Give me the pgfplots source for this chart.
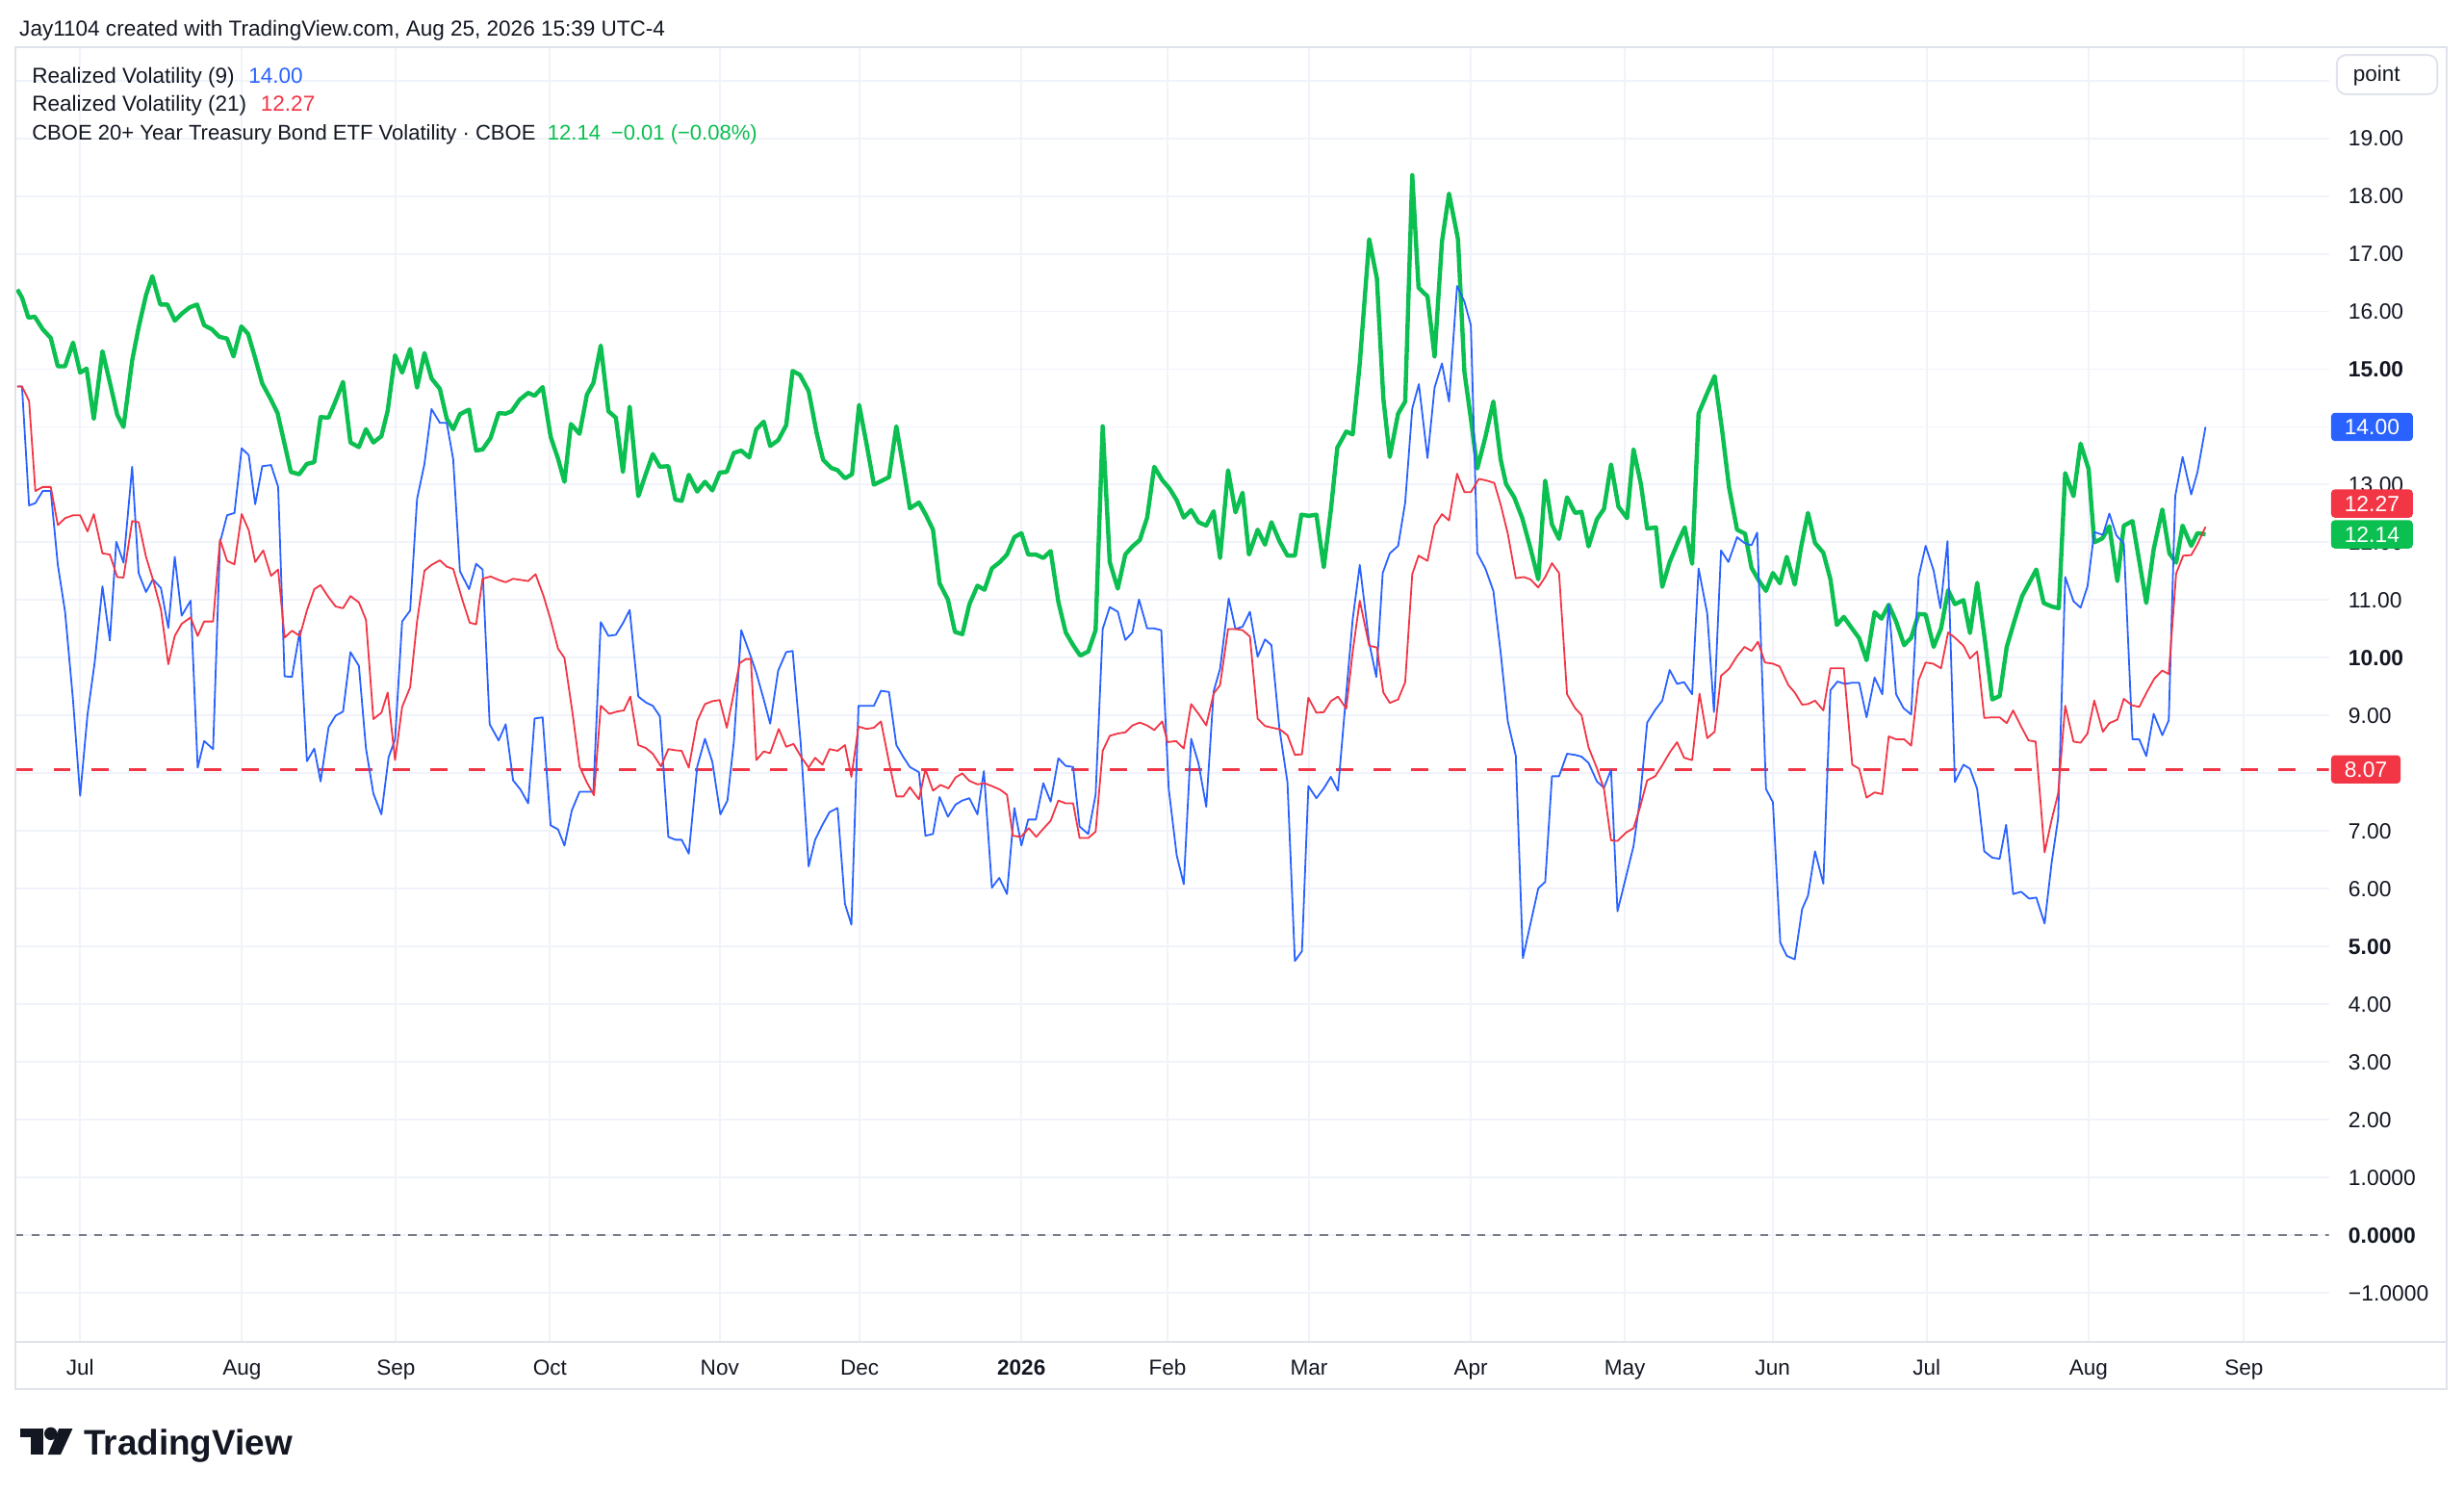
\documentclass[border=0pt]{standalone}
\usepackage{fontspec}
\setmainfont{Liberation Sans}
\usepackage{pgfplots}
\pgfplotsset{compat=1.18}
\usepackage{pgfplotstable}
\definecolor{tvblue}{HTML}{2962FF}
\definecolor{tvred}{HTML}{F23645}
\definecolor{tvgreen}{HTML}{0BBF50}
\definecolor{tvtext}{HTML}{131722}
\definecolor{tvgrid}{HTML}{F0F3FA}
\definecolor{tvborder}{HTML}{E0E3EB}
\definecolor{tvgray}{HTML}{787B86}
\newcommand{\tvfont}{\fontsize{6.9}{8}\selectfont}

% x = horizontal position on the time scale (bar position), y = value
\pgfplotstableread{
x y
11.0 16.38
14.0 16.24
18.1 15.89
22.1 15.91
27.2 15.69
32.3 15.54
36.8 15.05
41.4 15.05
46.5 15.46
51.0 14.94
55.1 15.01
59.7 14.14
65.2 15.31
69.9 14.77
74.6 14.21
78.6 14.00
84.1 15.15
88.2 15.72
92.9 16.28
96.9 16.61
102.0 16.12
106.5 16.12
111.2 15.84
115.6 15.96
120.7 16.07
125.4 16.12
129.9 15.76
134.9 15.69
139.6 15.56
144.5 15.53
148.6 15.22
153.6 15.74
157.9 15.61
162.4 15.19
166.9 14.75
172.1 14.49
176.6 14.24
180.7 13.75
185.1 13.22
190.4 13.18
195.3 13.36
200.0 13.39
204.0 14.17
209.1 14.16
213.6 14.45
218.3 14.78
223.0 13.73
228.4 13.65
232.9 13.96
237.6 13.73
242.7 13.84
246.7 14.28
251.4 15.24
255.9 14.94
261.0 15.35
265.4 14.68
270.1 15.28
274.6 14.84
279.9 14.66
284.3 14.14
288.4 13.96
292.7 14.22
298.5 14.30
303.0 13.59
307.1 13.61
312.2 13.81
317.3 14.24
321.8 14.23
325.5 14.27
330.6 14.47
336.1 14.59
340.2 14.54
345.3 14.69
350.4 13.83
355.1 13.45
359.2 13.05
363.3 14.05
368.8 13.88
373.5 14.56
377.6 14.76
382.3 15.41
387.2 14.27
391.9 14.16
396.4 13.22
400.7 14.35
406.2 12.80
410.9 13.18
415.4 13.53
419.9 13.31
425.3 13.32
429.8 12.74
433.8 12.72
438.3 13.17
443.7 12.88
448.6 13.05
453.3 12.90
458.0 13.21
462.5 13.22
467.0 13.55
471.7 13.59
476.8 13.47
481.3 13.96
486.0 14.09
490.1 13.67
495.2 13.77
500.3 14.03
504.4 14.97
509.1 14.90
514.6 14.62
519.7 13.89
523.8 13.43
528.9 13.29
533.0 13.25
537.7 13.11
542.2 13.18
546.7 14.38
551.4 13.71
556.1 13.00
560.6 13.06
565.7 13.13
570.4 14.01
574.9 13.29
579.0 12.59
584.8 12.69
589.3 12.47
593.7 12.22
597.9 11.29
603.2 11.01
607.7 10.45
612.4 10.41
616.9 10.93
622.0 11.25
626.5 11.18
631.2 11.55
636.3 11.66
640.8 11.79
645.5 12.09
650.0 12.16
654.3 11.79
659.2 11.79
663.9 11.73
668.6 11.85
673.5 10.97
678.2 10.44
682.9 10.22
687.4 10.04
692.5 10.11
697.2 10.48
701.7 14.01
706.2 11.66
711.3 11.20
716.1 11.79
720.6 11.93
725.3 12.04
730.0 12.43
734.5 13.31
739.6 13.08
744.3 12.93
748.8 12.73
753.3 12.43
758.0 12.56
762.7 12.35
767.6 12.29
772.3 12.54
776.4 11.73
781.5 13.25
786.2 12.52
790.7 12.86
794.8 11.79
800.3 12.22
805.0 11.96
809.1 12.35
814.2 12.02
819.3 11.77
824.0 11.77
828.1 12.48
833.0 12.46
837.7 12.48
842.4 11.57
846.9 12.56
851.0 13.64
856.7 13.92
860.8 13.87
865.3 15.10
871.3 17.25
876.2 16.57
880.3 14.49
884.4 13.48
889.7 14.23
894.2 14.44
898.7 18.36
902.7 16.41
908.4 16.26
912.9 15.22
917.6 17.21
922.1 18.04
927.8 17.25
931.9 14.95
936.0 14.14
940.1 13.28
945.2 13.82
950.3 14.44
955.0 13.43
958.4 13.01
963.6 12.78
968.7 12.42
973.8 11.91
978.9 11.36
983.3 13.07
987.6 12.31
992.1 12.06
997.2 12.78
1002.3 12.51
1006.4 12.53
1010.9 11.93
1016.2 12.40
1020.7 12.58
1025.2 13.35
1029.9 12.62
1035.4 12.42
1039.5 13.61
1044.2 13.01
1048.2 12.24
1053.8 12.26
1057.8 11.23
1062.5 11.66
1067.6 11.99
1072.1 12.26
1076.8 11.63
1080.9 14.23
1086.0 14.56
1091.1 14.88
1095.8 13.96
1100.3 12.95
1105.4 12.22
1110.5 12.15
1114.6 11.56
1119.2 11.34
1123.8 11.16
1128.2 11.47
1132.7 11.29
1137.0 11.75
1142.1 11.27
1146.2 11.93
1150.5 12.51
1155.0 11.99
1160.3 11.82
1164.8 11.36
1168.9 10.57
1173.3 10.71
1178.0 10.53
1183.1 10.34
1187.8 9.96
1192.9 10.79
1197.3 10.68
1201.9 10.92
1206.6 10.63
1211.7 10.22
1216.2 10.35
1220.9 10.76
1225.4 10.75
1230.5 10.19
1235.2 10.51
1239.7 11.17
1244.0 10.93
1249.5 11.00
1253.6 10.43
1258.2 11.30
1263.1 10.31
1267.8 9.28
1272.5 9.34
1277.0 10.19
1282.1 10.66
1286.8 11.07
1291.3 11.30
1295.8 11.53
1300.5 10.95
1305.6 10.89
1310.1 10.86
1314.2 13.20
1319.5 12.80
1324.0 13.71
1329.1 13.27
1332.7 12.00
1337.8 12.07
1342.3 12.28
1347.4 11.33
1351.5 12.29
1357.0 12.37
1361.3 11.68
1365.8 10.95
1370.5 11.88
1376.0 12.57
1380.5 11.81
1384.8 11.65
1388.9 12.29
1394.4 11.94
1398.4 12.16
1403.5 12.14
}\greendata

\pgfplotstableread{
x y
11.0 14.70
14.0 14.70
18.5 14.45
22.5 12.89
27.2 12.96
32.3 12.96
36.8 12.30
41.4 12.42
46.5 12.47
51.0 12.47
55.7 12.19
59.7 12.49
65.2 11.81
69.9 11.79
74.6 11.40
78.6 11.39
84.1 12.37
88.2 12.35
92.9 11.75
97.3 11.36
102.4 10.84
107.1 9.89
111.2 10.38
115.6 10.59
121.3 10.70
125.8 10.38
129.9 10.63
135.6 10.63
140.0 12.05
144.5 11.68
149.2 11.62
153.8 12.49
158.3 12.21
162.4 11.66
167.5 11.86
172.5 11.42
177.0 11.53
181.1 10.35
185.8 10.47
190.8 10.38
195.3 10.82
200.0 11.19
204.0 11.26
209.1 11.05
213.6 10.89
218.3 10.86
223.0 11.07
228.4 10.96
232.9 10.66
237.6 8.94
242.7 9.05
246.7 9.40
251.4 8.23
255.9 9.15
261.0 9.49
265.4 10.63
270.1 11.51
274.6 11.61
279.9 11.69
284.3 11.58
288.4 11.54
294.4 10.99
298.9 10.61
303.0 10.58
307.1 11.37
312.2 11.41
317.3 11.35
321.8 11.31
326.5 11.37
331.6 11.35
336.1 11.33
340.8 11.45
345.9 11.07
350.4 10.66
355.1 10.16
359.2 10.00
364.3 9.05
368.8 8.12
373.5 7.84
378.0 7.62
382.3 9.17
387.8 9.03
392.5 9.07
397.0 9.09
401.1 9.33
406.2 8.49
410.9 8.44
415.4 8.34
420.6 8.12
425.3 8.42
429.8 8.40
433.8 8.39
438.3 8.10
443.7 8.91
448.6 9.20
453.3 9.25
458.0 9.27
462.5 8.79
467.0 9.40
470.7 9.91
474.7 9.98
477.8 9.98
481.3 8.23
486.0 8.38
490.1 8.35
495.6 8.77
500.3 8.46
505.0 8.51
509.9 8.28
514.6 8.10
518.7 8.27
523.4 8.15
527.9 8.42
533.0 8.39
537.7 8.49
541.8 7.94
546.3 8.81
551.4 8.77
556.1 8.79
560.6 8.90
565.7 8.20
570.4 7.60
574.9 7.60
579.0 7.76
584.8 7.55
588.9 8.07
593.7 7.70
598.5 7.80
603.6 7.74
608.1 7.93
612.4 8.00
616.9 7.87
622.0 7.81
626.5 7.83
631.2 7.78
636.3 7.72
640.8 7.63
644.5 6.92
649.6 6.90
654.7 7.05
659.4 6.90
663.9 7.04
668.6 7.18
673.5 7.53
678.2 7.48
682.9 7.48
687.0 6.88
692.5 6.88
697.2 6.99
701.7 8.39
706.2 8.65
711.3 8.69
716.1 8.71
720.6 8.83
725.3 8.88
730.0 8.83
734.5 8.75
739.6 8.90
743.0 8.54
748.4 8.56
753.3 8.43
758.0 9.20
762.7 9.03
767.6 8.83
772.3 9.38
776.4 9.53
781.5 10.50
786.2 10.50
790.7 10.48
795.4 10.37
800.3 8.95
805.0 8.82
809.7 8.79
814.6 8.76
819.3 8.66
824.0 8.32
828.5 8.33
832.6 9.31
837.7 9.05
842.4 9.06
846.9 9.25
851.4 9.33
856.7 9.12
860.8 10.11
865.3 10.99
871.3 10.21
876.2 10.18
880.3 9.40
884.4 9.22
889.7 9.28
894.2 9.58
898.7 11.45
902.7 11.77
908.4 11.68
912.9 12.29
917.6 12.49
922.1 12.38
927.2 13.19
931.9 12.87
936.0 12.87
941.1 13.10
946.2 13.07
950.9 13.03
955.0 12.65
959.5 12.15
964.6 11.38
969.7 11.40
973.8 11.36
978.9 11.22
983.3 11.40
987.6 11.64
992.1 11.47
997.2 9.37
1002.3 9.13
1006.4 9.01
1010.9 8.45
1016.2 8.09
1020.7 7.73
1025.2 6.84
1029.3 6.83
1035.0 6.98
1039.5 7.05
1043.6 7.41
1048.2 7.88
1053.3 7.95
1057.8 8.14
1062.5 8.36
1067.2 8.54
1071.7 8.27
1076.8 8.23
1081.5 9.38
1086.4 8.61
1091.1 8.72
1095.2 9.69
1100.3 9.81
1105.4 10.03
1110.1 10.19
1114.6 10.12
1118.7 10.28
1123.1 9.92
1128.2 9.90
1132.5 9.85
1138.0 9.53
1142.1 9.40
1146.8 9.19
1150.5 9.20
1155.0 9.26
1160.3 9.09
1164.8 9.82
1169.3 9.82
1173.3 9.82
1178.7 8.15
1183.1 8.08
1187.8 7.58
1192.9 7.67
1197.8 7.64
1201.9 8.64
1206.6 8.59
1211.7 8.59
1216.2 8.48
1220.9 9.61
1225.4 9.92
1230.1 9.90
1235.2 9.82
1239.7 10.44
1244.0 10.35
1249.5 10.21
1253.6 9.99
1258.2 10.11
1262.7 8.96
1267.8 8.97
1272.5 8.97
1277.0 8.87
1281.1 9.09
1286.2 8.81
1290.9 8.57
1295.4 8.55
1301.1 6.63
1305.6 7.20
1309.7 7.65
1314.2 9.17
1319.5 8.55
1324.0 8.53
1328.4 8.69
1332.7 9.26
1338.2 8.72
1342.3 8.87
1347.4 8.93
1351.5 9.29
1356.6 9.18
1361.3 9.15
1365.8 9.39
1370.9 9.64
1376.0 9.78
1380.1 9.72
1384.8 11.46
1389.3 11.77
1394.4 11.78
1398.4 11.97
1403.5 12.27
}\reddata

\pgfplotstableread{
x y
11.0 14.70
14.0 14.70
18.5 12.64
22.5 12.68
27.2 12.89
32.3 12.89
36.8 11.61
41.4 10.80
46.5 9.26
51.0 7.61
55.7 9.02
60.3 9.93
65.2 11.24
69.9 10.30
74.0 12.01
78.6 11.65
84.1 13.31
88.2 11.47
92.9 11.14
97.3 11.36
102.4 11.21
107.1 10.52
111.2 11.75
115.6 10.73
121.3 10.99
125.8 8.10
129.9 8.56
135.6 8.42
140.0 12.00
144.5 12.47
149.2 12.51
153.8 13.63
158.3 13.51
162.4 12.66
166.9 13.32
172.5 13.34
177.0 12.96
181.1 9.68
185.8 9.67
190.8 10.47
195.3 8.21
200.0 8.43
204.0 7.86
209.1 8.80
213.6 9.00
218.3 9.07
223.0 10.10
228.4 9.86
232.9 8.43
237.6 7.65
242.7 7.29
247.3 8.28
251.4 8.59
255.9 10.63
261.0 10.82
265.4 12.75
270.1 13.36
274.6 14.31
279.9 14.07
284.3 14.07
288.4 13.44
292.7 11.50
298.5 11.19
303.0 11.63
307.1 11.53
311.6 8.85
317.3 8.57
321.8 8.85
326.5 7.88
331.2 7.72
336.1 7.48
340.2 8.95
345.3 8.97
350.4 7.10
355.1 7.03
359.2 6.75
363.9 7.36
368.8 7.68
373.5 7.68
377.6 7.68
382.3 10.62
387.2 10.38
391.9 10.40
396.6 10.61
400.7 10.83
406.2 9.33
410.9 9.23
415.4 9.17
419.9 8.99
425.3 6.90
429.8 6.85
433.8 6.85
438.3 6.61
443.7 8.12
448.6 8.60
453.3 8.20
458.4 7.29
462.9 7.53
467.0 8.55
471.7 10.48
476.8 10.10
481.3 9.74
486.0 9.28
490.1 8.86
495.2 9.78
500.3 10.10
504.4 10.12
509.5 8.53
514.6 6.39
518.7 6.85
523.4 7.11
527.9 7.33
533.0 7.40
537.7 5.74
541.8 5.38
546.3 9.17
551.4 9.17
556.1 9.17
560.6 9.43
565.7 9.41
570.4 8.49
574.9 8.28
579.0 8.11
584.8 8.02
588.9 6.92
593.7 6.95
597.9 7.59
603.2 7.25
608.1 7.46
612.4 7.53
616.9 7.57
622.0 7.29
626.1 8.04
631.2 6.02
635.9 6.19
640.8 5.91
645.5 7.40
650.0 6.75
654.3 7.20
659.2 7.20
663.9 7.83
668.6 7.51
673.5 8.26
678.2 8.13
682.9 8.11
687.0 7.08
692.5 6.95
697.2 7.63
701.7 10.50
706.2 10.88
711.3 10.80
716.1 10.31
720.6 10.44
724.8 11.01
730.0 10.51
734.5 10.51
739.0 10.48
743.7 7.74
748.8 6.58
753.3 6.08
758.0 8.60
762.7 8.17
767.6 7.42
772.3 9.42
776.4 9.81
781.9 11.03
786.2 10.50
790.7 10.54
795.4 10.80
800.3 10.02
805.0 10.32
809.1 10.22
814.2 8.77
819.3 7.84
824.0 4.75
828.5 4.92
832.6 7.78
837.7 7.57
842.4 7.74
846.9 7.94
851.4 7.70
856.1 9.20
860.8 10.67
865.3 11.61
871.3 10.26
875.8 9.67
879.9 11.47
884.4 11.81
889.7 11.94
894.2 12.69
898.7 14.32
902.9 14.74
908.4 13.46
912.9 14.68
917.6 15.10
922.1 14.44
927.2 16.44
931.9 16.17
936.0 15.76
940.1 11.81
945.2 11.55
950.3 11.16
955.0 10.08
959.5 8.90
964.6 8.30
969.1 4.80
973.8 5.38
978.9 6.01
983.3 6.12
987.6 7.95
992.1 7.95
997.2 8.34
1002.3 8.32
1006.4 8.29
1010.9 8.18
1016.2 7.86
1020.7 7.75
1025.2 8.06
1029.3 5.61
1035.0 6.24
1039.5 6.74
1043.6 7.55
1048.2 8.88
1053.3 9.10
1057.8 9.26
1062.5 9.79
1067.2 9.55
1071.7 9.58
1076.8 9.37
1080.9 11.55
1086.4 10.77
1090.7 9.06
1095.2 11.86
1099.9 11.66
1105.4 12.09
1110.1 11.99
1114.6 11.95
1118.2 12.17
1123.8 7.73
1128.2 7.50
1132.9 5.07
1137.0 4.84
1142.1 4.78
1146.8 5.65
1150.5 5.88
1155.0 6.65
1160.3 6.09
1164.8 9.44
1169.3 9.59
1174.0 9.55
1178.7 9.57
1183.1 9.57
1187.8 8.97
1192.9 9.66
1197.8 9.37
1201.9 10.92
1206.6 9.37
1211.3 9.13
1216.2 9.02
1220.9 11.40
1225.4 11.94
1230.5 11.51
1234.8 10.86
1239.3 12.02
1244.0 7.85
1249.5 8.15
1253.6 8.08
1258.2 7.73
1262.7 6.65
1267.8 6.54
1272.5 6.52
1276.6 7.11
1281.1 5.91
1286.2 5.95
1291.3 5.83
1295.8 5.85
1301.1 5.40
1305.6 6.46
1309.7 7.22
1314.2 11.40
1319.5 10.98
1324.0 10.87
1328.4 11.24
1332.7 12.18
1338.2 12.13
1342.3 12.50
1346.8 12.12
1351.5 11.98
1357.0 8.59
1361.3 8.59
1365.8 8.30
1370.5 9.03
1376.0 8.66
1380.1 8.92
1384.2 12.80
1388.9 13.48
1394.4 12.83
1398.4 13.22
1403.5 14.00
}\bluedata

\begin{document}
\begin{tikzpicture}
\path[use as bounding box, fill=white] (0pt,0pt) rectangle (784pt,-475.3pt);
\begin{axis}[
  at={(5pt,-427pt)}, anchor=south west,
  scale only axis, width=736pt, height=412pt,
  xmin=10, xmax=1482, ymin=-1.8508, ymax=20.577,
  axis line style={draw=none},
  major tick length=0pt, tick style={draw=none},
  grid=major, major grid style={draw=tvgrid, line width=0.6pt},
  xtick={51,154,252,350,458,547,650,743,833,936,1034,1128,1226,1329,1428},
  xticklabels={Jul,Aug,Sep,Oct,Nov,Dec,\textbf{2026},Feb,Mar,Apr,May,Jun,Jul,Aug,Sep},
  ytick={-1,0,...,20},
  yticklabels={−1.0000,\textbf{0.0000},1.0000,2.00,3.00,4.00,\textbf{5.00},6.00,7.00,8.00,9.00,\textbf{10.00},11.00,12.00,13.00,14.00,\textbf{15.00},16.00,17.00,18.00,19.00,{}},
  yticklabel pos=right,
  tick label style={font=\fontsize{7}{8}\selectfont, text=tvtext},
  xticklabel style={anchor=base, yshift=-10.5pt, font=\tvfont},
  yticklabel style={anchor=west, xshift=2.7pt},
]
\addplot[tvgray, line width=0.5pt, dash pattern=on 2.5pt off 2.5pt] coordinates {(10,0) (1482,0)};
\addplot[tvred, line width=0.9pt, dash pattern=on 5.5pt off 6.5pt] coordinates {(10,8.07) (1482,8.07)};
\addplot[tvgreen, line width=1.35pt, line join=round] table {\greendata};
\addplot[tvblue, line width=0.55pt, line join=round] table {\bluedata};
\addplot[tvred, line width=0.55pt, line join=round] table {\reddata};
\coordinate (l14) at (axis cs:1482,14.00);
\coordinate (l1214) at (axis cs:1482,12.14);
\coordinate (l807) at (axis cs:1482,8.07);
\end{axis}
\tikzset{pricebox/.style={anchor=west, text=white, font=\fontsize{7}{8}\selectfont, inner xsep=4.25pt, inner ysep=0pt, minimum height=9pt, rounded corners=1.2pt}}
\node[pricebox, fill=tvblue] at ([xshift=0.5pt]l14) {14.00};
\node[pricebox, fill=tvgreen] (gb) at ([xshift=0.5pt]l1214) {12.14};
\node[pricebox, fill=tvred, anchor=south west] at ([yshift=0.4pt]gb.north west) {12.27};
\node[pricebox, fill=tvred] at ([xshift=0.5pt]l807) {8.07};
\begin{scope}[x=0.5pt, y=-0.5pt]
\draw[tvborder, line width=0.6pt] (10,30) rectangle (1557,884);
\draw[tvborder, line width=0.6pt] (10,854) -- (1557,854);
\draw[tvborder, line width=0.6pt, fill=white, rounded corners=3pt] (1487,35) rectangle (1551,60);
\node[anchor=base west, font=\tvfont, text=tvtext, inner sep=0pt] at (1497,51.5) {point};
\node[anchor=base west, font=\tvfont, text=tvtext, inner sep=0pt] at (12,23) {Jay1104 created with TradingView.com, Aug 25, 2026 15:39 UTC-4};
\node[anchor=base west, font=\tvfont, text=tvtext, inner sep=0pt] at (20,52.7) {Realized Volatility (9)\hspace{4.5pt}\textcolor{tvblue}{14.00}};
\node[anchor=base west, font=\tvfont, text=tvtext, inner sep=0pt] at (20,70.8) {Realized Volatility (21)\hspace{4.5pt}\textcolor{tvred}{12.27}};
\node[anchor=base west, font=\fontsize{6.75}{8}\selectfont, text=tvtext, inner sep=0pt] at (20,89) {CBOE 20+ Year Treasury Bond ETF Volatility · CBOE\hspace{3.8pt}\textcolor{tvgreen}{12.14\hspace{3.3pt}−0.01 (−0.08\%)}};
% TradingView logo
\fill[tvtext] (13.1,909) rectangle (27.3,914.6);
\fill[tvtext] (19.7,909) rectangle (27.3,925.5);
\fill[tvtext] (32.3,912.2) circle[radius=4.1];
\fill[tvtext] (37.5,909) -- (46.2,909) -- (38.6,925.5) -- (30.4,925.5) -- cycle;
\node[anchor=base west, font=\fontsize{11.3}{13}\selectfont\bfseries, text=tvtext, inner sep=0pt] at (53,925.5) {TradingView};
\end{scope}
\end{tikzpicture}
\end{document}
